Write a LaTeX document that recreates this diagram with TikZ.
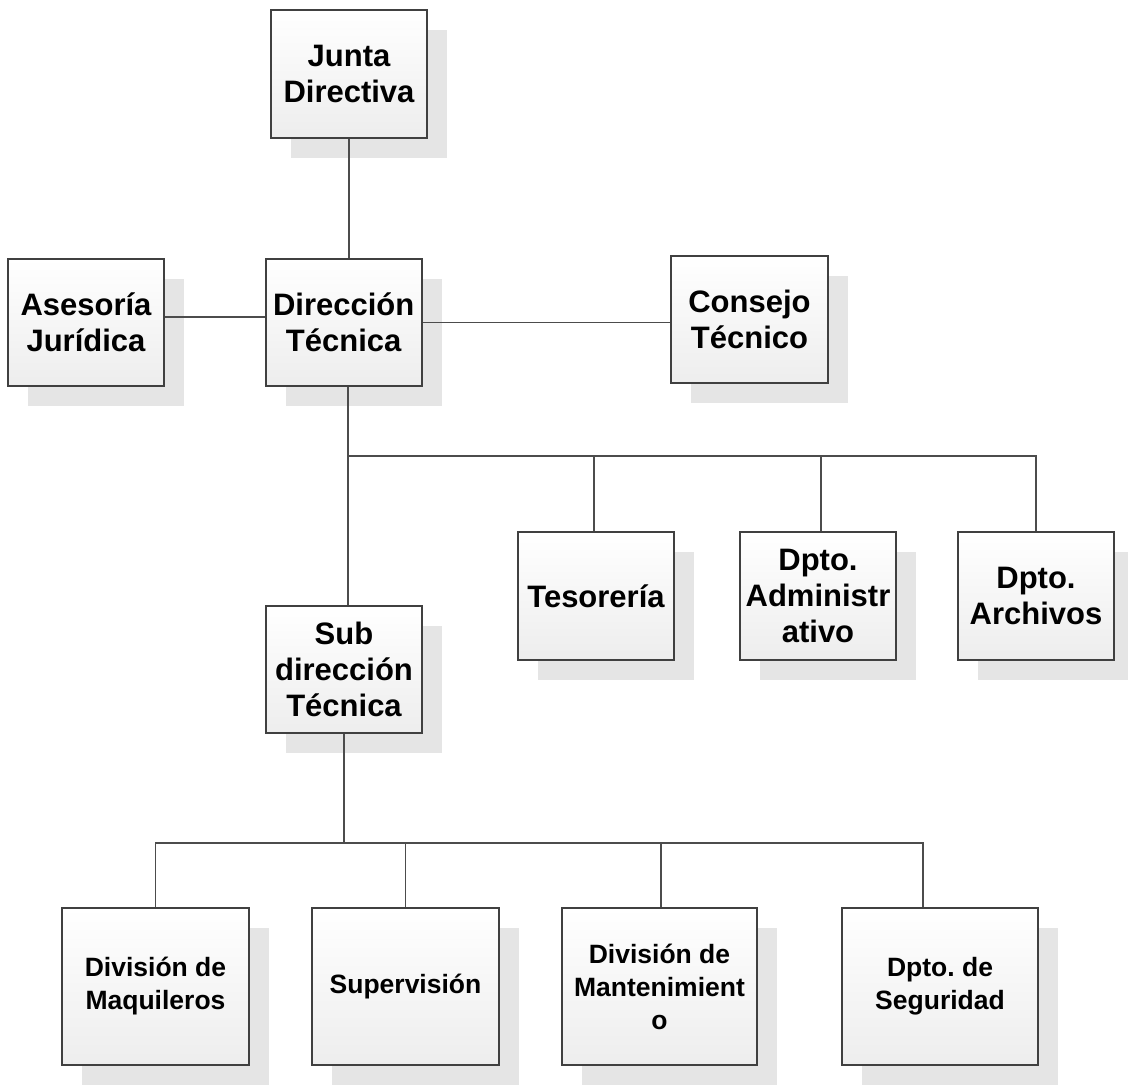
\documentclass[tikz,border=0pt]{standalone}
\usepackage{fontspec}
\setmainfont{Liberation Sans}
\usetikzlibrary{shadows}
\frenchspacing
\tikzset{
  orgbox/.style={draw=black!75, line width=1.8pt, rectangle, inner sep=2pt,
    top color=white, bottom color=black!7, align=center,
    font=\bfseries\fontsize{31}{36}\selectfont,
    drop shadow={shadow xshift=20pt, shadow yshift=-20pt, fill=black!10, opacity=1, draw=none}},
  smallbox/.style={orgbox, font=\bfseries\fontsize{26.5}{33}\selectfont},
  link/.style={draw=black!70, line width=1.5pt}
}
\begin{document}
\begin{tikzpicture}[x=1pt,y=-1pt]
\useasboundingbox[fill=white] (0,0) rectangle (1128,1085);
% top level
\node[orgbox, minimum width=156pt, minimum height=128pt] (jd) at (349,74) {Junta\\Directiva};
\node[orgbox, minimum width=156pt, minimum height=127pt] (aj) at (86,322.5) {Asesoría\\Jurídica};
\node[orgbox, minimum width=156pt, minimum height=127pt] (dt) at (343.7,322.5) {Dirección\\Técnica};
\node[orgbox, minimum width=157pt, minimum height=127pt] (ct) at (749.5,319.5) {Consejo\\Técnico};
% middle level
\node[orgbox, minimum width=156pt, minimum height=128pt] (tes) at (596,596) {Tesorería};
\node[orgbox, minimum width=156pt, minimum height=128pt] (adm) at (818,596) {Dpto.\\Administr\\ativo};
\node[orgbox, minimum width=156pt, minimum height=128pt] (arc) at (1036,596) {Dpto.\\Archivos};
\node[orgbox, minimum width=156pt, minimum height=127pt] (sdt) at (344,669.5) {Sub\\dirección\\Técnica};
% bottom level
\node[smallbox, minimum width=187pt, minimum height=157pt] (maq) at (155.5,986.5) {División de\\Maquileros};
\node[smallbox, minimum width=187pt, minimum height=157pt] (sup) at (405.5,986.5) {Supervisión};
\node[smallbox, minimum width=195pt, minimum height=157pt] (man) at (659.5,986.5) {División de\\Mantenimient\\o};
\node[smallbox, minimum width=196pt, minimum height=157pt] (seg) at (940,986.5) {Dpto.\ de\\Seguridad};
% connectors
\draw[link] (jd.south) -- (jd.south |- dt.north);
\draw[link] ([yshift=5.5pt]aj.east) -- ([yshift=5.5pt]aj.east -| dt.west);
\draw[link] (dt.east) -- (dt.east -| ct.west);
\coordinate (b1) at ([xshift=4.3pt]dt.south |- 0,456);
\draw[link] ([xshift=4.3pt]dt.south) -- ([xshift=4.3pt]dt.south |- sdt.north);
\draw[link] (b1) -| ([xshift=-2pt]tes.north);
\draw[link] (b1) -| ([xshift=3pt]adm.north);
\draw[link] (b1) -| (arc.north);
\coordinate (b2) at (sdt.south |- 0,843);
\draw[link] (sdt.south) -- (b2);
\draw[link] (b2) -| (maq.north);
\draw[link] (b2) -| (sup.north);
\draw[link] (b2) -| ([xshift=1.5pt]man.north);
\draw[link] (b2) -| ([xshift=-17pt]seg.north);
\end{tikzpicture}
\end{document}
